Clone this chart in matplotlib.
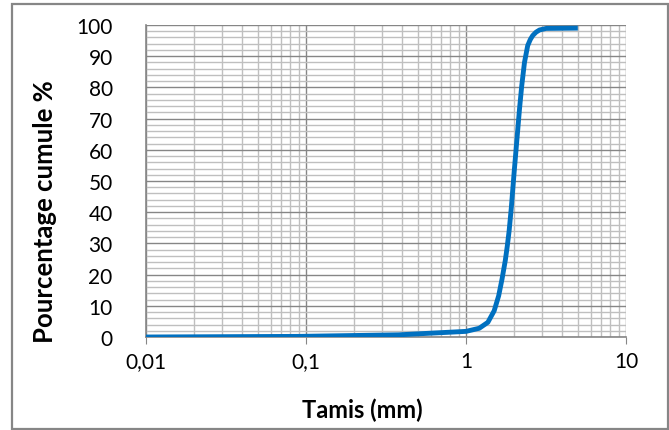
import matplotlib
matplotlib.use("Agg")
import matplotlib.pyplot as plt
from matplotlib.patches import Rectangle
from matplotlib.ticker import FixedLocator, FixedFormatter, MultipleLocator

# Grain-size distribution (cumulative passing)
tamis_mm = [0.01, 0.09, 0.38, 1.0, 1.21, 1.37, 1.5, 1.6, 1.68, 1.76, 1.81, 1.86,
            1.92, 2.0, 2.16, 2.23, 2.32, 2.43, 2.52, 2.61, 2.74, 2.88, 3.17, 5.0]
cumule_pct = [0.0, 0.2, 0.7, 1.8, 2.8, 4.7, 8.4, 13.2, 18.6, 24.5, 29.0, 34.0,
              41.5, 52.9, 73.1, 80.5, 88.0, 93.4, 95.3, 96.6, 97.7, 98.4, 98.9, 99.0]

x_ticks = [0.01, 0.1, 1, 10]
x_tick_labels = ["0,01", "0,1", "1", "10"]
y_ticks = list(range(0, 101, 10))

plt.rcParams['font.family'] = ['Lato', 'DejaVu Sans']

fig = plt.figure(figsize=(6.69, 4.31), dpi=100)
ax = fig.add_axes([146 / 669, 1 - 338 / 431, (626 - 146) / 669, (338 - 26) / 431])

ax.plot(tamis_mm, cumule_pct, color='#0070C0', linewidth=3.5,
        solid_capstyle='butt', solid_joinstyle='round', zorder=3)

ax.set_xscale('log')
ax.set_xlim(0.01, 10)
ax.set_ylim(0, 100)

ax.xaxis.set_major_locator(FixedLocator(x_ticks))
ax.xaxis.set_major_formatter(FixedFormatter(x_tick_labels))
minor = [m * d for d in (0.01, 0.1, 1) for m in range(2, 10)]
ax.xaxis.set_minor_locator(FixedLocator(minor))
ax.xaxis.set_minor_formatter(FixedFormatter([""] * len(minor)))
ax.yaxis.set_major_locator(FixedLocator(y_ticks))
ax.yaxis.set_minor_locator(MultipleLocator(2))

ax.grid(which='major', color='#868686', linewidth=1.0)
ax.grid(which='minor', color='#bfbfbf', linewidth=1.0)
ax.set_axisbelow(True)

for side in ('top', 'right'):
    ax.spines[side].set_visible(False)
for side in ('left', 'bottom'):
    ax.spines[side].set_color('#868686')
    ax.spines[side].set_linewidth(1.2)

ax.tick_params(axis='x', which='major', length=5, color='#868686',
               labelsize=15, pad=5)
ax.tick_params(axis='x', which='minor', length=0)
ax.tick_params(axis='y', which='major', length=0, labelsize=15, pad=24)
ax.tick_params(axis='y', which='minor', length=0)

fig.text(362 / 669, 1 - 410 / 431, "Tamis (mm)", ha='center', va='center',
         fontsize=17, fontweight='bold')
fig.text(45 / 669, 1 - 212 / 431, "Pourcentage cumule %", ha='center',
         va='center', rotation=90, fontsize=18.5, fontweight='bold')

fig.patches.append(Rectangle((11.5 / 669, 1 - 429.5 / 431), 656 / 669, 425 / 431,
                             transform=fig.transFigure, fill=False,
                             edgecolor='#868686', linewidth=1.6))

fig.savefig("out.png", dpi=100)
